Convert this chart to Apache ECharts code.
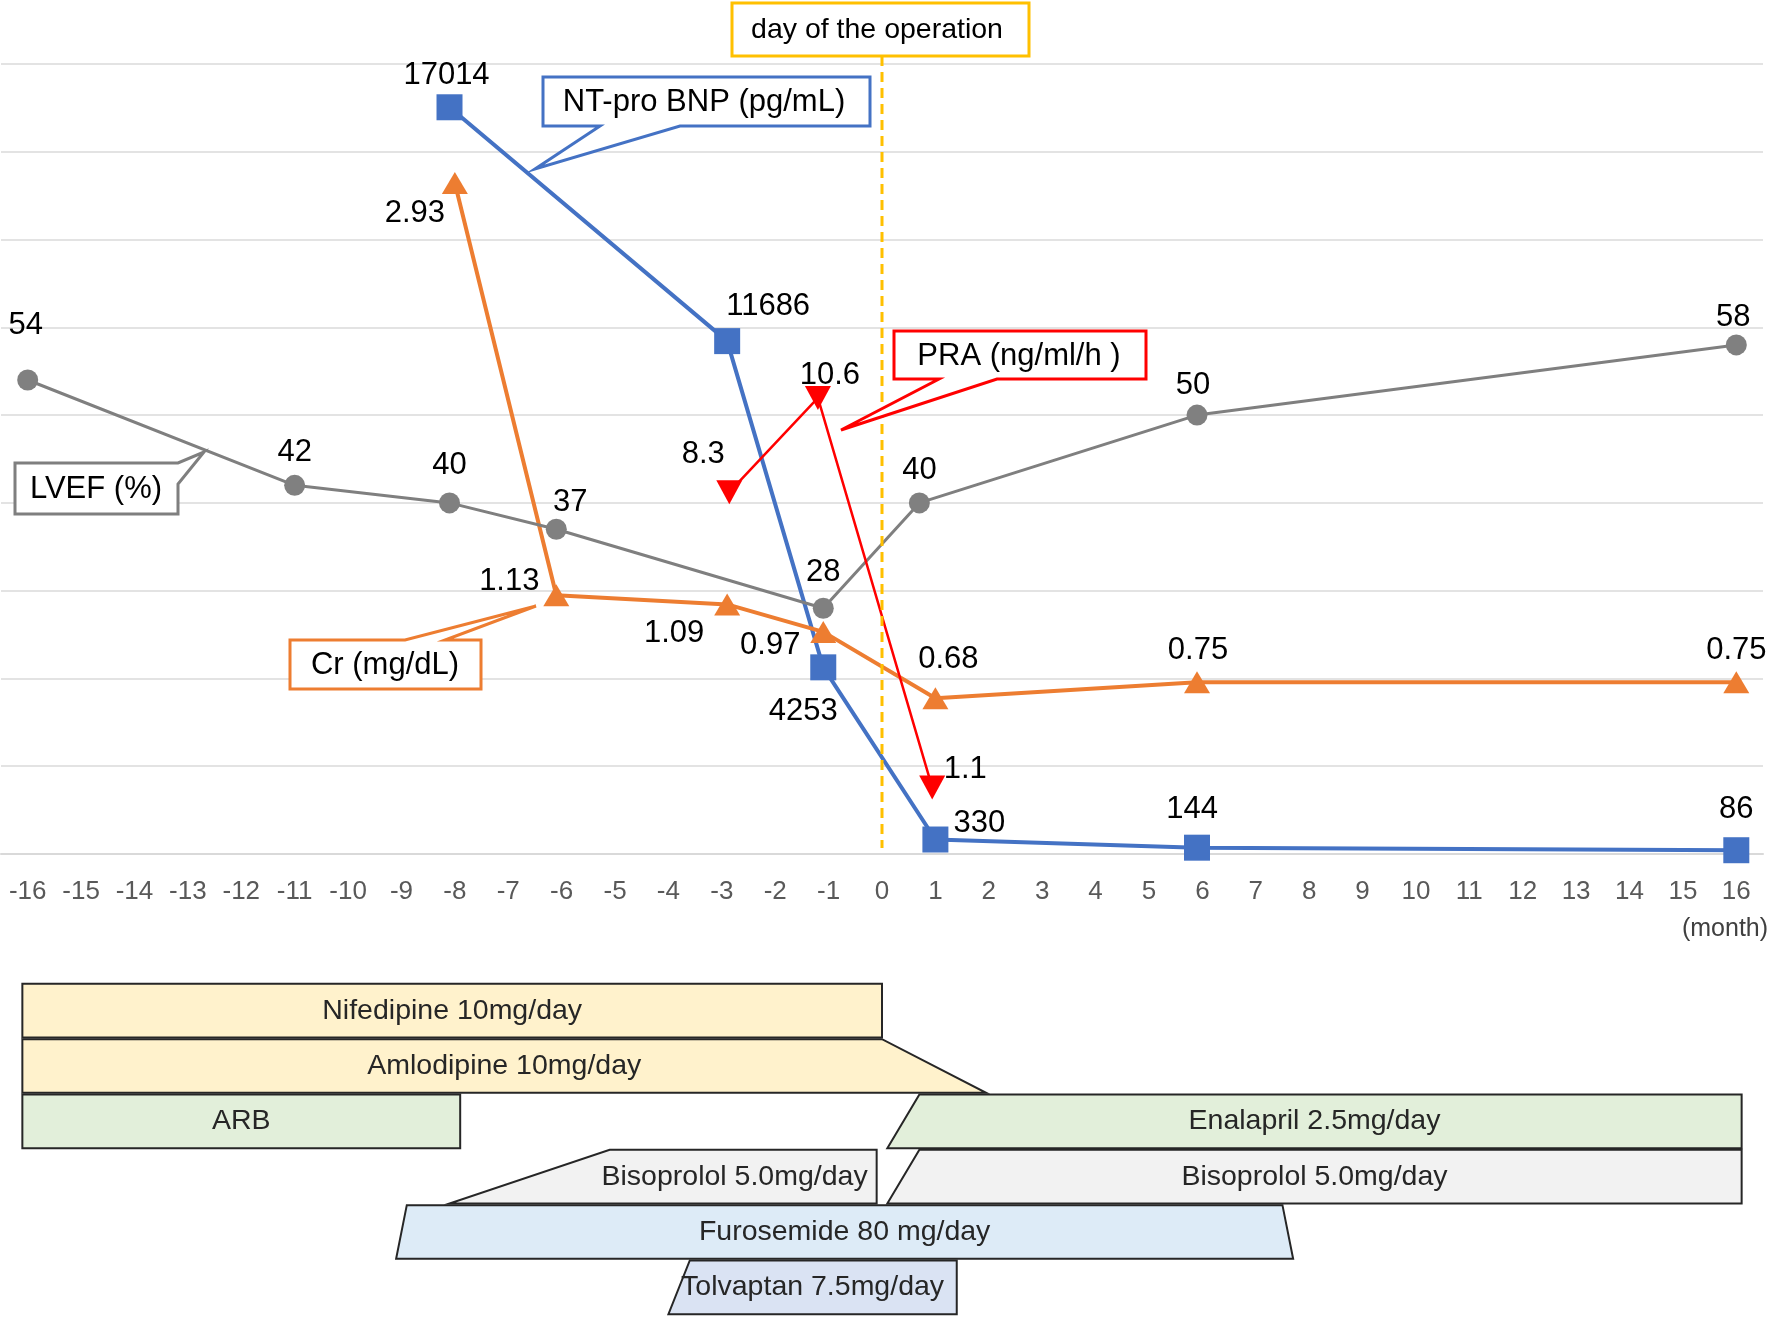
<!DOCTYPE html>
<html><head><meta charset="utf-8">
<script src="https://cdn.jsdelivr.net/npm/echarts@6/dist/echarts.min.js"></script>
<style>html,body{margin:0;padding:0;background:#fff}#c{width:1770px;height:1317px}</style>
</head><body><div id="c"></div>
<script>
// ---------- data ----------
const monthTicks = [-16,-15,-14,-13,-12,-11,-10,-9,-8,-7,-6,-5,-4,-3,-2,-1,0,1,2,3,4,5,6,7,8,9,10,11,12,13,14,15,16];

const lvefMonths = [-16, -11, -8.1, -6.1, -1.1, 0.7, 5.9, 16];
const lvefValues = [54, 42, 40, 37, 28, 40, 50, 58];

const crMonths = [-8, -6.1, -2.9, -1.1, 1, 5.9, 16];
const crValues = [2.93, 1.13, 1.09, 0.97, 0.68, 0.75, 0.75];

const bnpMonths = [-8.1, -2.9, -1.1, 1, 5.9, 16];
const bnpValues = [17014, 11686, 4253, 330, 144, 86];

const praMonths = [-2.86, -1.2, 0.94];
const praValues = [8.3, 10.6, 1.1];

const drugNames = ['Nifedipine 10mg/day', 'Amlodipine 10mg/day', 'ARB', 'Enalapril 2.5mg/day',
  'Bisoprolol 5.0mg/day', 'Bisoprolol 5.0mg/day', 'Furosemide 80 mg/day', 'Tolvaptan 7.5mg/day'];
const drugRows        = [0, 1, 2, 2, 3, 3, 4, 5];
const drugStartTop    = [-16.1, -16.1, -16.1, 0.7, -5.1, 0.7, -8.9, -3.6];
const drugStartBottom = [-16.1, -16.1, -16.1, 0.1, -8.1, 0.1, -9.1, -4.0];
const drugEndTop      = [0, 0, -7.9, 16.1, -0.1, 16.1, 7.5, 1.4];
const drugEndBottom   = [0, 1.95, -7.9, 16.1, -0.1, 16.1, 7.7, 1.4];

// ---------- styles ----------
const FONT = '"Liberation Sans", Arial, sans-serif';
const drugFill = ['#FFF2CC', '#FFF2CC', '#E2EFDA', '#E2EFDA', '#F2F2F2', '#F2F2F2', '#DDEBF7', '#DAE3F3'];
const drugAlign = ['center', 'center', 'center', 'center', 'right', 'center', 'center', 'center'];

const lvefLabelOffsets = [[-2,-55],[0,-33],[0,-37],[14,-27],[0,-36],[0,-32],[-4,-30],[-3,-27]];
const crLabelOffsets   = [[-40,30],[-47,-14],[-53,29],[-53,14],[13,-39],[1,-32],[0,-32]];
const bnpLabelOffsets  = [[-3,-32],[41,-35],[-20,44],[44,-16],[-5,-38],[0,-41]];
const praLabelOffsets  = [[-26,-38],[12,-22],[33,-18]];

function pts(xs, ys, offs) {
  return xs.map((x, i) => ({ value: [x, ys[i]], label: { offset: offs[i] } }));
}
const labelBase = { show: true, position: 'inside', fontSize: 31, color: '#000', fontFamily: FONT,
  formatter: p => String(p.value[1]) };

const chart = echarts.init(document.getElementById('c'), null, { renderer: 'canvas' });

const option = {
  animation: false,
  backgroundColor: '#fff',
  grid: [
    { left: 1, right: 7, top: 64, height: 790, containLabel: false, outerBoundsMode: 'none' },
    { left: 1, right: 7, top: 983, height: 332, containLabel: false, outerBoundsMode: 'none' }
  ],
  xAxis: [
    { type: 'value', gridIndex: 0, min: -16.5, max: 16.5,
      axisLine: { show: true, lineStyle: { color: '#d9d9d9', width: 2 } },
      axisTick: { show: false },
      splitLine: { show: false },
      axisLabel: { customValues: monthTicks, color: '#595959', fontSize: 26, fontFamily: FONT, margin: 25,
        formatter: v => String(v) } },
    { type: 'value', gridIndex: 1, min: -16.5, max: 16.5, show: false }
  ],
  yAxis: [
    { type: 'value', gridIndex: 0, min: 0, max: 90, interval: 10,
      axisLine: { show: false }, axisTick: { show: false }, axisLabel: { show: false },
      splitLine: { show: true, lineStyle: { color: '#e3e3e3', width: 2 } } },
    { type: 'value', gridIndex: 0, min: 0, max: 3.45, show: false, splitLine: { show: false } },
    { type: 'value', gridIndex: 0, min: 0, max: 18000, show: false, splitLine: { show: false } },
    { type: 'value', gridIndex: 0, min: -0.524, max: 18.744, show: false, splitLine: { show: false } },
    { type: 'value', gridIndex: 1, min: 0, max: 6, inverse: true, show: false }
  ],
  series: [
    { name: 'NT-pro BNP', type: 'line', xAxisIndex: 0, yAxisIndex: 2,
      data: pts(bnpMonths, bnpValues, bnpLabelOffsets),
      symbol: 'rect', symbolSize: 26, itemStyle: { color: '#4472C4' },
      lineStyle: { color: '#4472C4', width: 4 }, label: labelBase, z: 2 },
    { name: 'Cr', type: 'line', xAxisIndex: 0, yAxisIndex: 1,
      data: pts(crMonths, crValues, crLabelOffsets),
      symbol: 'triangle', symbolSize: [26, 22], itemStyle: { color: '#ED7D31' },
      lineStyle: { color: '#ED7D31', width: 4 }, label: labelBase, z: 3 },
    { name: 'LVEF', type: 'line', xAxisIndex: 0, yAxisIndex: 0,
      data: pts(lvefMonths, lvefValues, lvefLabelOffsets),
      symbol: 'circle', symbolSize: 21, itemStyle: { color: '#808080' },
      lineStyle: { color: '#7F7F7F', width: 3 }, label: labelBase, z: 4 },
    { name: 'PRA', type: 'line', xAxisIndex: 0, yAxisIndex: 3,
      data: pts(praMonths, praValues, praLabelOffsets),
      symbol: 'triangle', symbolRotate: 180, symbolSize: [26, 24], itemStyle: { color: '#FF0000' },
      lineStyle: { color: '#FF0000', width: 2.5 }, label: labelBase, z: 5 },
    { name: 'drugs', type: 'custom', xAxisIndex: 1, yAxisIndex: 4,
      data: drugNames.map((n, i) => [drugRows[i], drugStartTop[i], drugStartBottom[i], drugEndTop[i], drugEndBottom[i]]),
      encode: { x: [1, 2, 3, 4], y: 0 },
      clip: false,
      renderItem: function (params, api) {
        const i = params.dataIndex;
        const r = api.value(0);
        const yT = api.coord([0, r + 0.015])[1];
        const yB = api.coord([0, r + 0.985])[1];
        const xTL = api.coord([api.value(1), 0])[0];
        const xBL = api.coord([api.value(2), 0])[0];
        const xTR = api.coord([api.value(3), 0])[0];
        const xBR = api.coord([api.value(4), 0])[0];
        const align = drugAlign[i];
        let tx;
        if (align === 'right') tx = Math.min(xTR, xBR) - 9;
        else tx = (Math.min(xTL, xBL) + Math.max(xTR, xBR)) / 2;
        return {
          type: 'group',
          children: [
            { type: 'polygon', shape: { points: [[xTL, yT], [xTR, yT], [xBR, yB], [xBL, yB]] },
              style: { fill: drugFill[i], stroke: '#262626', lineWidth: 2 } },
            { type: 'text', style: { text: drugNames[i], x: tx, y: (yT + yB) / 2, align: align,
              verticalAlign: 'middle', fontSize: 28.5, fontFamily: FONT, fill: '#262626' } }
          ]
        };
      }
    }
  ]
};
chart.setOption(option);

// ---------- annotations ----------
const x0 = chart.convertToPixel({ gridIndex: 0 }, [0, 0])[0];
const yBase = chart.convertToPixel({ gridIndex: 0 }, [0, 0])[1];

function callout(points, color, text, tx, ty) {
  return [
    { type: 'polygon', z: 100, shape: { points: points },
      style: { fill: '#fff', stroke: color, lineWidth: 3, lineJoin: 'miter' } },
    { type: 'text', z: 101, style: { text: text, x: tx, y: ty, align: 'center', verticalAlign: 'middle',
      fontSize: 31, fontFamily: FONT, fill: '#000' } }
  ];
}

const graphics = [
  { type: 'line', z: 90, shape: { x1: x0, y1: 56, x2: x0, y2: yBase - 6 },
    style: { stroke: '#FFC000', lineWidth: 3, lineDash: [10, 6] } },
  { type: 'rect', z: 100, shape: { x: 732, y: 3, width: 297, height: 53 },
    style: { fill: '#fff', stroke: '#FFC000', lineWidth: 3 } },
  { type: 'text', z: 101, style: { text: 'day of the operation', x: 877, y: 30, align: 'center', verticalAlign: 'middle',
    fontSize: 28.5, fontFamily: FONT, fill: '#000' } },
  ...callout([[543,77],[870,77],[870,126],[680,126],[535,169],[600,126],[543,126]], '#4472C4', 'NT-pro BNP (pg/mL)', 704, 102),
  ...callout([[894,331],[1146,331],[1146,379],[997,379],[841,430],[939,379],[894,379]], '#FF0000', 'PRA (ng/ml/h )', 1019, 356),
  ...callout([[15,463],[178,463],[204,452],[178,484],[178,514],[15,514]], '#7F7F7F', 'LVEF (%)', 96, 489),
  ...callout([[290,640],[405,640],[536,606],[445,640],[481,640],[481,689],[290,689]], '#ED7D31', 'Cr (mg/dL)', 385, 665),
  { type: 'text', z: 101, style: { text: '(month)', x: 1725, y: 929, align: 'center', verticalAlign: 'middle',
    fontSize: 25, fontFamily: FONT, fill: '#404040' } }
];
chart.setOption({ graphic: graphics });
</script>
</body></html>
